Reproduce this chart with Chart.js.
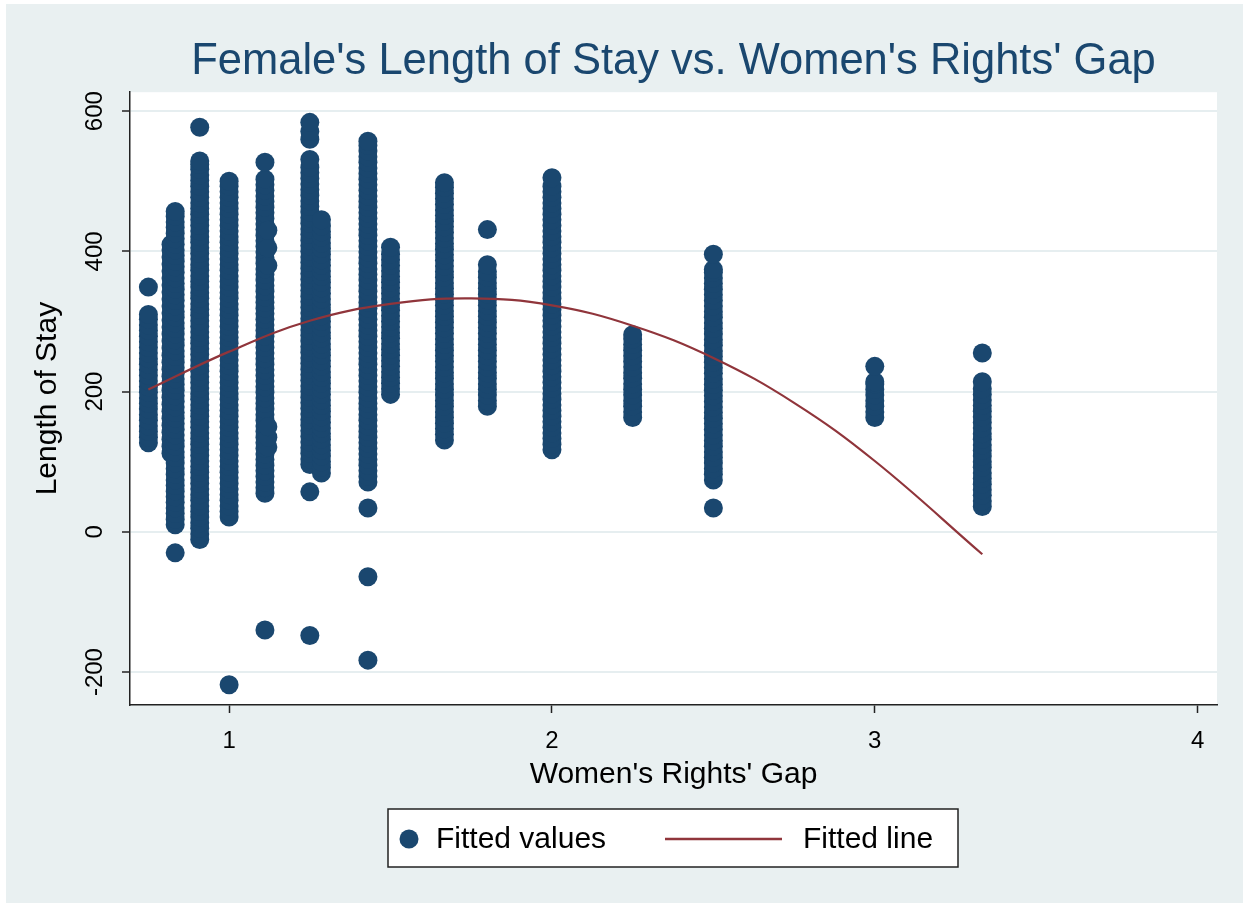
<!DOCTYPE html>
<html>
<head>
<meta charset="utf-8">
<title>Female's Length of Stay vs. Women's Rights' Gap</title>
<script src="https://cdn.jsdelivr.net/npm/chart.js@4.4.1/dist/chart.umd.min.js"></script>
<style>
html,body{margin:0;padding:0;background:#fff;}
canvas{display:block;}
</style>
</head>
<body>
<canvas id="myChart" width="1247" height="907"></canvas>
<script>
// women's rights gap (x) for each column of dots
const gapValues = [0.75, 0.82, 0.833, 0.909, 1.0, 1.111, 1.12, 1.25, 1.286, 1.43, 1.5, 1.667, 1.8, 2.0, 2.25, 2.5, 3.0, 3.333];

// length of stay values
const stay075 = [127,135,143,151,159,167,175,183,191,199,207,215,223,231,239,247,255,263,271,279,287,295,303,310,349];
const stay082 = [112,122,132,142,152,162,172,182,192,202,212,222,232,242,252,262,272,282,292,302,312,322,332,342,352,362,372,382,392,402,410];
const stay0833 = [-30,10,18,26,34,42,50,58,66,74,82,90,98,106,114,122,130,138,146,154,162,170,178,186,194,202,210,218,226,234,242,250,258,266,274,282,290,298,306,314,322,330,338,346,354,362,370,378,386,394,402,410,418,426,434,442,450,457];
const stay0909 = [-11,-3,5,13,21,29,37,45,53,61,69,77,85,93,101,109,117,125,133,141,149,157,165,173,181,189,197,205,213,221,229,237,245,253,261,269,277,285,293,301,309,317,325,333,341,349,357,365,373,381,389,397,405,413,421,429,437,445,453,461,469,477,485,493,501,509,517,524,529,577];
const stay100 = [-218,21,29,37,45,53,61,69,77,85,93,101,109,117,125,133,141,149,157,165,173,181,189,197,205,213,221,229,237,245,253,261,269,277,285,293,301,309,317,325,333,341,349,357,365,373,381,389,397,405,413,421,429,437,445,453,461,469,477,485,493,500];
const stay1111 = [-140,55,63,71,79,87,95,103,111,119,127,135,143,151,159,167,175,183,191,199,207,215,223,231,239,247,255,263,271,279,287,295,303,311,319,327,335,343,351,359,367,375,383,391,399,407,415,423,431,439,447,455,463,471,479,487,495,503,527];
const stay112 = [121,135,150,380,405,430];
const stay125 = [-148,57,96,104,112,120,128,136,144,152,160,168,176,184,192,200,208,216,224,232,240,248,256,264,272,280,288,296,304,312,320,328,336,344,352,360,368,376,384,392,400,408,416,424,432,440,448,456,464,472,480,488,496,504,512,520,531,560,571,584];
const stay1286 = [84,92,100,108,116,124,132,140,148,156,164,172,180,188,196,204,212,220,228,236,244,252,260,268,276,284,292,300,308,316,324,332,340,348,356,364,372,380,388,396,404,412,420,428,436,445];
const stay143 = [-183,-64,34,71,79,87,95,103,111,119,127,135,143,151,159,167,175,183,191,199,207,215,223,231,239,247,255,263,271,279,287,295,303,311,319,327,335,343,351,359,367,375,383,391,399,407,415,423,431,439,447,455,463,471,479,487,495,503,511,519,527,535,543,551,557];
const stay150 = [196,204,212,220,228,236,244,252,260,268,276,284,292,300,308,316,324,332,340,348,356,364,372,380,388,396,406];
const stay1667 = [131,139,147,155,163,171,179,187,195,203,211,219,227,235,243,251,259,267,275,283,291,299,307,315,323,331,339,347,355,363,371,379,387,395,403,411,419,427,435,443,451,459,467,475,483,491,498];
const stay180 = [179,187,195,203,211,219,227,235,243,251,259,267,275,283,291,299,307,315,323,331,339,347,355,363,371,381,431];
const stay200 = [117,125,133,141,149,157,165,173,181,189,197,205,213,221,229,237,245,253,261,269,277,285,293,301,309,317,325,333,341,349,357,365,373,381,389,397,405,413,421,429,437,445,453,461,469,477,485,493,505];
const stay225 = [163,171,179,187,195,203,211,219,227,235,243,251,259,267,275,281];
const stay250 = [34,74,82,90,98,106,114,122,130,138,146,154,162,170,178,186,194,202,210,218,226,234,242,250,258,266,274,282,290,298,306,314,322,330,338,346,354,362,370,374,396];
const stay300 = [163,171,179,187,195,203,211,214,236];
const stay3333 = [36,44,52,60,68,76,84,92,100,108,116,124,132,140,148,156,164,172,180,188,196,204,214,255];

const stayColumns = [stay075, stay082, stay0833, stay0909, stay100, stay1111, stay112, stay125, stay1286,
  stay143, stay150, stay1667, stay180, stay200, stay225, stay250, stay300, stay3333];

// fitted (quadratic) line
const fitX = [0.75, 1.0, 1.25, 1.5, 1.75, 2.0, 2.25, 2.5, 2.75, 3.0, 3.333];
const fitY = [203, 257, 301, 325, 333, 323, 294, 248, 184, 101, -32];

// axis ticks
const xTicks = [1, 2, 3, 4];
const yTicks = [-200, 0, 200, 400, 600];

const NAVY = "#1a476f";
const MAROON = "#90353b";
const FONT = "'Liberation Sans', Arial, Helvetica, sans-serif";

let scatterPoints = [];
gapValues.forEach((gx, i) => {
  stayColumns[i].forEach(v => scatterPoints.push({x: gx, y: v}));
});
let fitPoints = fitX.map((gx, i) => ({x: gx, y: fitY[i]}));

const stataBackground = {
  id: "stataBackground",
  beforeDraw(chart) {
    const c = chart.ctx, a = chart.chartArea;
    c.save();
    c.fillStyle = "#ffffff";
    c.fillRect(0, 0, chart.width, chart.height);
    c.fillStyle = "#e9f0f1";
    c.fillRect(6, 4, chart.width - 10, chart.height - 8);
    c.fillStyle = "#ffffff";
    c.fillRect(a.left, a.top, a.right - a.left, a.bottom - a.top);
    c.restore();
  }
};

// stata writes the y labels turned on their side
const rotatedYTicks = {
  id: "rotatedYTicks",
  afterDraw(chart) {
    const s = chart.scales.y, c = chart.ctx;
    c.save();
    c.font = "24px " + FONT;
    c.fillStyle = "#000";
    c.textAlign = "center";
    c.textBaseline = "alphabetic";
    s.ticks.forEach(t => {
      c.save();
      c.translate(102, s.getPixelForValue(t.value));
      c.rotate(-Math.PI / 2);
      c.fillText(String(t.value), 0, 0);
      c.restore();
    });
    c.restore();
  }
};

const boxedLegend = {
  id: "boxedLegend",
  afterDraw(chart) {
    const c = chart.ctx;
    const dots = chart.data.datasets[0], line = chart.data.datasets[1];
    const cy = 839;
    c.save();
    c.fillStyle = "#fff";
    c.fillRect(388, 809, 570, 58);
    c.strokeStyle = "#222";
    c.lineWidth = 1.5;
    c.strokeRect(388, 809, 570, 58);
    c.fillStyle = dots.backgroundColor;
    c.beginPath();
    c.arc(409, cy, 9.5, 0, Math.PI * 2);
    c.fill();
    c.strokeStyle = line.borderColor;
    c.lineWidth = 2.5;
    c.beginPath();
    c.moveTo(665, cy);
    c.lineTo(782, cy);
    c.stroke();
    c.fillStyle = "#000";
    c.font = "30px " + FONT;
    c.textBaseline = "middle";
    c.textAlign = "left";
    c.fillText(dots.label, 436, cy + 1);
    c.fillText(line.label, 803, cy + 1);
    c.restore();
  }
};

let ctx = document.getElementById("myChart").getContext("2d");
let stayChart = new Chart(ctx, {
  type: "scatter",
  data: {
    datasets: [{
      label: "Fitted values",
      data: scatterPoints,
      backgroundColor: NAVY,
      borderWidth: 0,
      pointRadius: 9.5,
      pointHoverRadius: 9.5,
      order: 2
    }, {
      label: "Fitted line",
      data: fitPoints,
      showLine: true,
      borderColor: MAROON,
      borderWidth: 2.2,
      pointRadius: 0,
      tension: 0.4,
      fill: false,
      order: 1
    }]
  },
  options: {
    responsive: false,
    animation: false,
    events: [],
    layout: {padding: {left: 0, right: 30, top: 0, bottom: 100}},
    plugins: {
      legend: {display: false},
      tooltip: {enabled: false},
      title: {
        display: true,
        fullSize: false,
        text: "Female's Length of Stay vs. Women's Rights' Gap",
        color: NAVY,
        font: {family: FONT, size: 43.5, weight: "normal"},
        padding: {top: 36, bottom: 4}
      }
    },
    scales: {
      x: {
        type: "linear",
        min: 0.693,
        max: 4.06,
        afterBuildTicks: s => { s.ticks = xTicks.map(v => ({value: v})); },
        afterFit: s => { s.height = 102; },
        grid: {drawOnChartArea: false, drawTicks: true, tickLength: 8, tickColor: "#222", tickWidth: 1.5},
        border: {display: true, color: "#222", width: 1.5},
        ticks: {color: "#000", font: {family: FONT, size: 24}, padding: 14, maxRotation: 0},
        title: {display: true, text: "Women's Rights' Gap", color: "#000",
          font: {family: FONT, size: 30}, padding: {top: 0, bottom: 14}}
      },
      y: {
        type: "linear",
        min: -247,
        max: 627,
        afterBuildTicks: s => { s.ticks = yTicks.map(v => ({value: v})); },
        afterFit: s => { s.width = 130; },
        grid: {color: "#e6eef0", lineWidth: 2, drawTicks: true, tickLength: 8, tickColor: "#222", tickWidth: 1.5},
        border: {display: true, color: "#222", width: 1.5},
        ticks: {display: false},
        title: {display: true, text: "Length of Stay", color: "#000",
          font: {family: FONT, size: 30}, padding: {top: 30, bottom: 0}}
      }
    }
  },
  plugins: [stataBackground, rotatedYTicks, boxedLegend]
});
</script>
</body>
</html>
